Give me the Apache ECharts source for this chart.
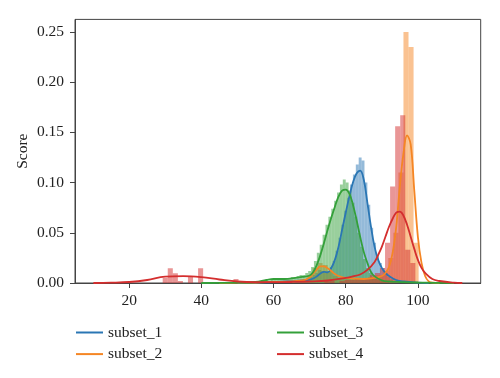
<!DOCTYPE html>
<html lang="en">
<head>
    <meta charset="UTF-8">
    <title>Score distribution</title>
    <script src="https://cdn.jsdelivr.net/npm/echarts@6/dist/echarts.min.js"></script>
    <style>
        html, body { margin: 0; padding: 0; background: #fff; }
        #chart { width: 500px; height: 378px; }
    </style>
</head>
<body>
    <div id="chart"></div>
    <script type="text/javascript">
        // tick labels
        var xTicks = [20, 40, 60, 80, 100];
        var yTicks = [0, 0.05, 0.10, 0.15, 0.20, 0.25];

        var names = ['subset_1', 'subset_2', 'subset_3', 'subset_4'];
        var colors = ['#2a76b4', '#f58624', '#34a03a', '#d42e2e'];

        // histograms: first bin edge, bin width, bar heights
        var hist1Start = 66, hist1Width = 0.8;
        var hist1 = [0.002, 0.003, 0.003, 0.004, 0.005, 0.006, 0.008, 0.010, 0.013, 0.012,
            0.010, 0.012, 0.016, 0.022, 0.032, 0.045, 0.058, 0.072, 0.085, 0.098,
            0.108, 0.118, 0.125, 0.122, 0.100, 0.078, 0.055, 0.040, 0.028, 0.020,
            0.015, 0.010, 0.006, 0.004, 0.002];

        var hist2Start = 68, hist2Width = 1.4;
        var hist2 = [0.004, 0.008, 0.015, 0.020, 0.018, 0.012, 0.007, 0.005, 0.004, 0.004,
            0.004, 0.004, 0.005, 0.006, 0.008, 0.008, 0.012, 0.025, 0.050, 0.110,
            0.250, 0.235, 0.040];

        var hist3Start = 56, hist3Width = 0.8;
        var hist3 = [0.002, 0.003, 0.003, 0.002, 0.004, 0.003, 0.004, 0.003, 0.004, 0.005,
            0.005, 0.006, 0.006, 0.007, 0.008, 0.008, 0.010, 0.012, 0.016, 0.022,
            0.030, 0.038, 0.048, 0.058, 0.066, 0.074, 0.082, 0.090, 0.098, 0.103,
            0.100, 0.092, 0.080, 0.066, 0.050, 0.036, 0.024, 0.015, 0.010, 0.006,
            0.004, 0.003, 0.002, 0.002, 0.001];

        var hist4Start = 29.3, hist4Width = 1.4;
        var hist4 = [0.005, 0.0146, 0.0097, 0.002, 0, 0.007, 0, 0.0146, 0, 0,
            0, 0, 0, 0, 0.004, 0, 0, 0, 0, 0,
            0, 0, 0, 0, 0, 0, 0, 0, 0, 0,
            0, 0, 0.002, 0.002, 0, 0.002, 0.003, 0.003, 0.004, 0.004,
            0.004, 0.008, 0.010, 0.015, 0.040, 0.096, 0.156, 0.167, 0.033, 0.020];

        // kde curves [x, density]
        var kde1 = [[50, 0], [55, 0.0005], [60, 0.001], [64, 0.0018], [68, 0.0025], [70, 0.0033],
            [71, 0.0045], [72, 0.0066], [73, 0.0095], [74, 0.011], [75, 0.0105], [76, 0.015],
            [77, 0.023], [78, 0.036], [79, 0.053], [80, 0.070], [81, 0.086], [82, 0.100],
            [83, 0.109], [84, 0.112], [85, 0.103], [86, 0.080], [87, 0.056], [88, 0.036],
            [89, 0.023], [90, 0.015], [91, 0.010], [92, 0.007], [94, 0.003], [96, 0.0015],
            [100, 0.0003], [103, 0]];

        var kde2 = [[45, 0], [50, 0.0003], [55, 0.0005], [60, 0.001], [65, 0.0015], [68, 0.0025],
            [69, 0.0035], [70, 0.0055], [71, 0.0095], [72, 0.0136], [73, 0.0165], [74, 0.0165],
            [75, 0.0146], [76, 0.012], [77, 0.009], [78, 0.007], [80, 0.005], [85, 0.004],
            [88, 0.005], [90, 0.007], [91, 0.010], [92, 0.016], [93, 0.030], [94, 0.056],
            [95, 0.096], [96, 0.129], [97, 0.147], [98, 0.138], [99, 0.092], [100, 0.046],
            [101, 0.020], [102, 0.007], [103, 0.0016], [104, 0.0003], [106, 0]];

        var kde3 = [[40, 0], [50, 0.0003], [55, 0.001], [58, 0.003], [60, 0.004], [63, 0.004],
            [66, 0.005], [68, 0.006], [70, 0.0075], [71, 0.011], [72, 0.018], [73, 0.028],
            [74, 0.040], [75, 0.053], [76, 0.065], [77, 0.076], [78, 0.086], [79, 0.092],
            [80, 0.093], [81, 0.089], [82, 0.078], [83, 0.063], [84, 0.046], [85, 0.031],
            [86, 0.020], [87, 0.011], [88, 0.0066], [90, 0.0027], [92, 0.0015], [95, 0.001],
            [100, 0.0005], [105, 0.0002], [110, 0]];

        var kde4 = [[10.1, 0], [15, 0.0003], [20, 0.001], [25, 0.003], [30, 0.0063], [35, 0.0068],
            [40, 0.0058], [45, 0.0035], [50, 0.0015], [55, 0.0008], [60, 0.0008], [65, 0.001],
            [70, 0.0015], [75, 0.0025], [80, 0.005], [82, 0.0065], [84, 0.0085], [86, 0.013],
            [88, 0.021], [89, 0.028], [90, 0.036], [91, 0.046], [92, 0.056], [93, 0.064],
            [94, 0.070], [95, 0.071], [96, 0.067], [97, 0.058], [98, 0.046], [99, 0.034],
            [100, 0.023], [101, 0.015], [102, 0.010], [104, 0.004], [106, 0.002], [110, 0.0003],
            [112.3, 0]];

        var hists = [[hist1Start, hist1Width, hist1], [hist2Start, hist2Width, hist2],
            [hist3Start, hist3Width, hist3], [hist4Start, hist4Width, hist4]];
        var kdes = [kde1, kde2, kde3, kde4];

        var font = '"Liberation Serif", "DejaVu Serif", serif';

        function binRows(h) {
            var rows = [];
            for (var i = 0; i < h[2].length; i++) {
                var x0 = h[0] + i * h[1];
                rows.push([x0, x0 + h[1], h[2][i]]);
            }
            return rows;
        }

        function histSeries(k) {
            return {
                name: names[k] + ' hist',
                type: 'custom',
                clip: true,
                silent: true,
                encode: { x: [0, 1], y: 2 },
                data: binRows(hists[k]),
                renderItem: function (params, api) {
                    var p0 = api.coord([api.value(0), api.value(2)]);
                    var p1 = api.coord([api.value(1), 0]);
                    return {
                        type: 'rect',
                        shape: { x: p0[0], y: p0[1], width: p1[0] - p0[0], height: p1[1] - p0[1] },
                        style: { fill: colors[k], opacity: 0.5 }
                    };
                }
            };
        }

        function kdeSeries(k) {
            return {
                name: names[k],
                type: 'line',
                data: kdes[k],
                smooth: 0.4,
                showSymbol: false,
                silent: true,
                lineStyle: { color: colors[k], width: 1.8 },
                itemStyle: { color: colors[k] }
            };
        }

        var series = [];
        for (var k = 0; k < 4; k++) {
            series.push(histSeries(k));
            series.push(kdeSeries(k));
        }

        var legendBase = {
            orient: 'vertical',
            top: 324.5,
            padding: 0,
            icon: 'rect',
            itemWidth: 27,
            itemHeight: 2,
            itemGap: 5.6,
            textStyle: { fontFamily: font, fontSize: 15.5, color: '#222', lineHeight: 16 }
        };

        var myChart = echarts.init(document.getElementById('chart'), null, { renderer: 'canvas' });
        var option = {
            animation: false,
            color: colors,
            grid: {
                left: 75, right: 19.3, top: 19.4, bottom: 95,
                show: true, borderColor: '#444', borderWidth: 1, backgroundColor: 'transparent'
            },
            legend: [
                Object.assign({}, legendBase, { left: 76, data: [names[0], names[1]] }),
                Object.assign({}, legendBase, { left: 277, data: [names[2], names[3]] })
            ],
            xAxis: {
                type: 'value',
                min: 5,
                max: 117.4,
                splitLine: { show: false },
                axisLine: { lineStyle: { color: '#444' } },
                axisTick: { length: 5, lineStyle: { color: '#444' }, customValues: xTicks },
                axisLabel: {
                    margin: 10, customValues: xTicks,
                    fontFamily: font, fontSize: 15.5, color: '#222'
                }
            },
            yAxis: {
                type: 'value',
                min: 0,
                max: 0.2625,
                name: 'Score',
                nameLocation: 'middle',
                nameGap: 44,
                nameMoveOverlap: false,
                nameTextStyle: { fontFamily: font, fontSize: 15.5, color: '#222' },
                splitLine: { show: false },
                axisLine: { show: true, lineStyle: { color: '#444' } },
                axisTick: { show: true, length: 5, lineStyle: { color: '#444' }, customValues: yTicks },
                axisLabel: {
                    margin: 11, customValues: yTicks,
                    fontFamily: font, fontSize: 15.5, color: '#222',
                    formatter: function (v) { return v.toFixed(2); }
                }
            },
            series: series
        };
        myChart.setOption(option);
    </script>
</body>
</html>
